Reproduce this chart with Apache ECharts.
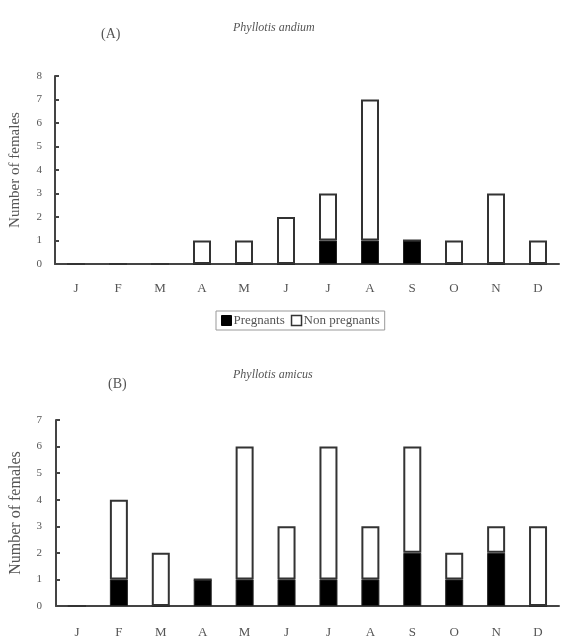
<!DOCTYPE html>
<html>
<head>
<meta charset="utf-8">
<script src="https://cdn.jsdelivr.net/npm/echarts@6/dist/echarts.min.js"></script>
<style>
  html, body { margin: 0; padding: 0; background: #fff; }
  #chart { width: 570px; height: 640px; }
</style>
</head>
<body>
<div id="chart"></div>
<script>
const months = ['J', 'F', 'M', 'A', 'M', 'J', 'J', 'A', 'S', 'O', 'N', 'D'];

// Panel A - Phyllotis andium
const andiumPregnant = [0, 0, 0, 0, 0, 0, 1, 1, 1, 0, 0, 0];
const andiumNonPregnant = [0, 0, 0, 1, 1, 2, 2, 6, 0, 1, 3, 1];

// Panel B - Phyllotis amicus
const amicusPregnant = [0, 1, 0, 1, 1, 1, 1, 1, 2, 1, 2, 0];
const amicusNonPregnant = [0, 3, 2, 0, 5, 2, 5, 2, 4, 1, 1, 3];

const font = "'Liberation Serif', 'DejaVu Serif', serif";
const textColor = '#555';
const lineColor = '#444';

const chart = echarts.init(document.getElementById('chart'));

function xAxisFor(gridIndex, margin) {
  return {
    type: 'category',
    gridIndex: gridIndex,
    data: months,
    axisLine: { lineStyle: { color: lineColor, width: 2 } },
    axisTick: { inside: true, length: 5, lineStyle: { color: lineColor, width: 2 } },
    axisLabel: { color: textColor, fontFamily: font, fontSize: 13, margin: margin }
  };
}

function yAxisFor(gridIndex, max, nameSize, labelMargin) {
  return {
    type: 'value',
    gridIndex: gridIndex,
    min: 0,
    max: max,
    interval: 1,
    name: 'Number of females',
    nameLocation: 'middle',
    nameGap: 32,
    nameTextStyle: { color: textColor, fontFamily: font, fontSize: nameSize },
    axisLine: { show: true, lineStyle: { color: lineColor, width: 2 } },
    axisTick: { show: true, inside: true, length: 4, lineStyle: { color: lineColor, width: 2 } },
    axisLabel: { color: textColor, fontFamily: font, fontSize: 11, margin: labelMargin },
    splitLine: { show: false }
  };
}

const pregnantStyle = { color: '#000', borderColor: '#222', borderWidth: 1 };
const nonPregnantStyle = { color: '#fff', borderColor: '#333', borderWidth: 2 };

const option = {
  animation: false,
  backgroundColor: '#fff',
  title: [
    { text: '(A)', left: 96, top: 22, textStyle: { color: textColor, fontFamily: font, fontSize: 14, fontWeight: 'normal' } },
    { text: 'Phyllotis andium', left: 228, top: 17, textStyle: { color: textColor, fontFamily: font, fontSize: 12, fontStyle: 'italic', fontWeight: 'normal' } },
    { text: '(B)', left: 103, top: 372, textStyle: { color: textColor, fontFamily: font, fontSize: 14, fontWeight: 'normal' } },
    { text: 'Phyllotis amicus', left: 228, top: 364, textStyle: { color: textColor, fontFamily: font, fontSize: 12, fontStyle: 'italic', fontWeight: 'normal' } }
  ],
  legend: {
    left: 216,
    top: 311,
    data: [
      { name: 'Pregnants', itemStyle: { color: '#000', borderColor: '#000', borderWidth: 1 } },
      { name: 'Non pregnants', itemStyle: { color: '#fff', borderColor: '#333', borderWidth: 1.5 } }
    ],
    icon: 'rect',
    itemWidth: 10,
    itemHeight: 10,
    itemGap: 6,
    padding: [3, 5],
    borderColor: '#999',
    borderWidth: 1,
    textStyle: { color: textColor, fontFamily: font, fontSize: 13, padding: [0, 0, 0, -3] }
  },
  grid: [
    { left: 55, right: 11, top: 76, height: 188 },
    { left: 52, right: 11, top: 420, height: 186 }
  ],
  xAxis: [xAxisFor(0, 18), xAxisFor(1, 20)],
  yAxis: [yAxisFor(0, 8, 15, 13), yAxisFor(1, 7, 16, 14)],
  series: [
    { name: 'Pregnants', type: 'bar', stack: 'a', xAxisIndex: 0, yAxisIndex: 0, barWidth: 18, data: andiumPregnant, itemStyle: pregnantStyle },
    { name: 'Non pregnants', type: 'bar', stack: 'a', xAxisIndex: 0, yAxisIndex: 0, barWidth: 18, data: andiumNonPregnant, itemStyle: nonPregnantStyle },
    { name: 'Pregnants', type: 'bar', stack: 'b', xAxisIndex: 1, yAxisIndex: 1, barWidth: 18, data: amicusPregnant, itemStyle: pregnantStyle },
    { name: 'Non pregnants', type: 'bar', stack: 'b', xAxisIndex: 1, yAxisIndex: 1, barWidth: 18, data: amicusNonPregnant, itemStyle: nonPregnantStyle }
  ]
};

chart.setOption(option);
</script>
</body>
</html>
